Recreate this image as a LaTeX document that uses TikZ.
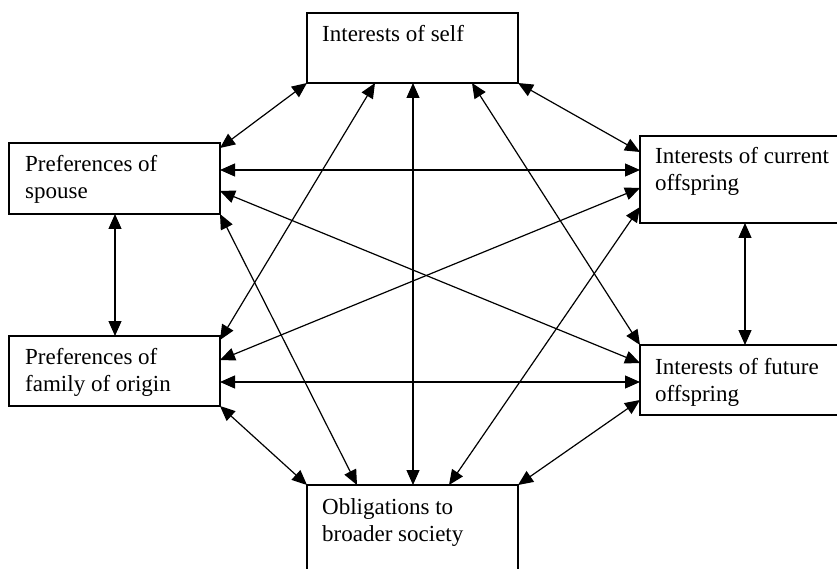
\documentclass[tikz,border=0pt]{standalone}
\usepackage{fontspec}
\setmainfont{Liberation Serif}
\usetikzlibrary{arrows.meta,calc}
\begin{document}
\begin{tikzpicture}[x=1pt,y=-1pt,
  box/.style={draw,line width=1.4pt,rectangle,anchor=north west,inner sep=0pt,outer sep=0pt,minimum width=211pt,minimum height=70pt},
  lbl/.style={anchor=base west,inner sep=0pt,align=left,font=\fontsize{23}{27}\selectfont},
  link/.style={line width=1.2pt,{Triangle[length=15pt,width=13pt]}-{Triangle[length=15pt,width=13pt]}}]
\clip (0,0) rectangle (837,569);
\fill[white] (0,0) rectangle (837,569);
% boxes
\node[box] (self) at (307,13) {};
\node[box,minimum height=71pt] (spouse) at (9,143) {};
\node[box,minimum height=87pt,minimum width=230pt] (cur) at (640,136) {};
\node[box] (fam) at (9,336) {};
\node[box,minimum width=230pt] (fut) at (640,345) {};
\node[box,minimum height=110pt] (obl) at (307,485) {};
% texts (base anchor = baseline of last line)
\node[lbl] (selft) at (322,42) {Interests of self};
\node[lbl] (spouset) at (25,199) {Preferences of\\spouse};
\node[lbl] (curt) at (655,191) {Interests of current\\offspring};
\node[lbl] (famt) at (25,391) {Preferences of\\family of origin};
\node[lbl] (futt) at (655,401) {Interests of future\\offspring};
\node[lbl] (oblt) at (322,541) {Obligations to\\broader society};
% connectors
\draw[link] (self.south west) -- ($(spouse.north east)+(0,5)$);
\draw[link] (self.south east) -- ($(cur.north west)+(0,16)$);
\draw[link] ($(spouse.north east)+(0,27)$) -- ($(cur.north west)+(0,34)$);
\draw[link] ($(spouse.north east)+(0,48)$) -- ($(fut.north west)+(0,18)$);
\draw[link] (spouse.south east) -- ($(obl.north west)+(50,0)$);
\draw[link] ($(self.south west)+(68,0)$) -- ($(fam.north east)+(0,4)$);
\draw[link] ($(self.south west)+(106,0)$) -- ($(obl.north west)+(106,0)$);
\draw[link] ($(self.south west)+(165,0)$) -- (fut.north west);
\draw[link] ($(cur.north west)+(0,52)$) -- ($(fam.north east)+(0,24)$);
\draw[link] ($(cur.north west)+(0,71)$) -- ($(obl.north west)+(142,0)$);
\draw[link] ($(cur.south west)+(105,0)$) -- ($(fut.north west)+(105,0)$);
\draw[link] ($(fam.north east)+(0,46)$) -- ($(fut.north west)+(0,37)$);
\draw[link] (fam.south east) -- (obl.north west);
\draw[link] ($(fut.north west)+(0,55)$) -- (obl.north east);
\draw[link] ($(spouse.south west)+(106,0)$) -- ($(fam.north west)+(106,0)$);
\end{tikzpicture}
\end{document}
